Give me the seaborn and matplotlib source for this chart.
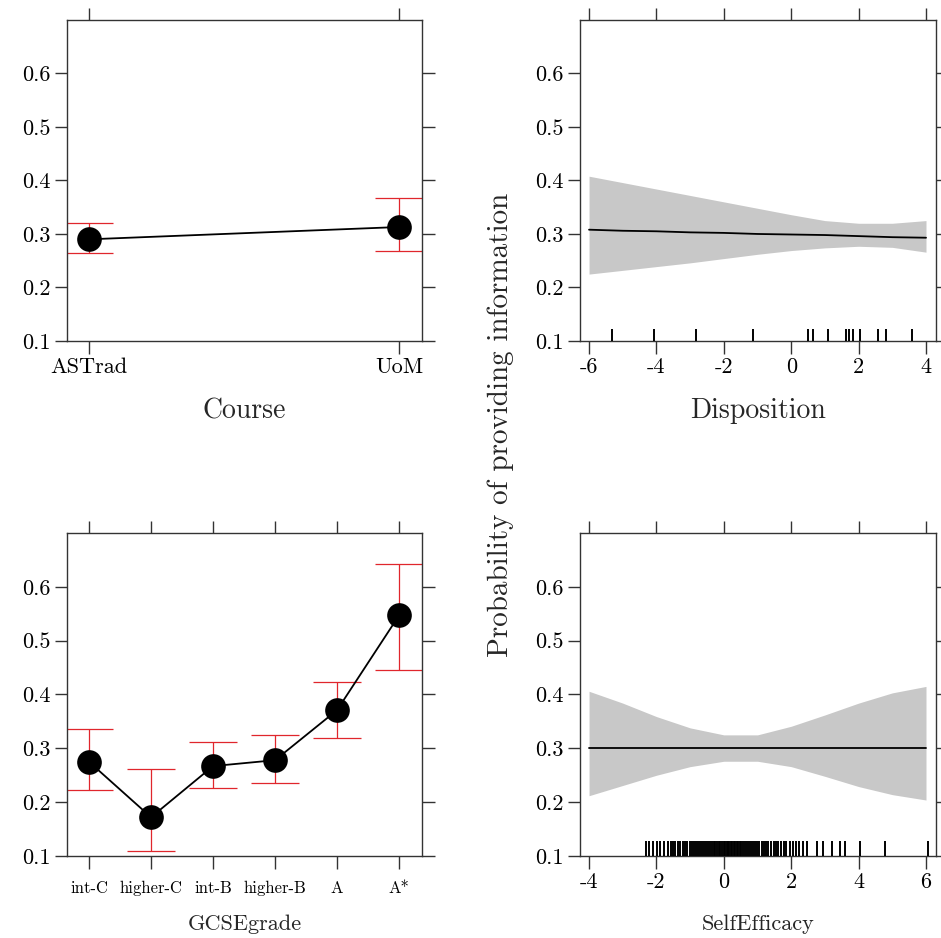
import pandas as pd
import matplotlib
matplotlib.use("Agg")
import matplotlib.pyplot as plt
import numpy as np
import seaborn as sns


## values
COURSE = ["ASTrad", "UoM"]
COURSE_FIT = [0.290, 0.313]
COURSE_LO = [0.264, 0.268]
COURSE_HI = [0.320, 0.368]

GRADES = ["int-C", "higher-C", "int-B", "higher-B", "A", "A*"]
GRADE_FIT = [0.275, 0.172, 0.267, 0.278, 0.371, 0.547]
GRADE_LO = [0.223, 0.110, 0.227, 0.235, 0.320, 0.446]
GRADE_HI = [0.335, 0.262, 0.312, 0.325, 0.423, 0.643]

DISP_X = [-6, -5, -4, -3, -2, -1, 0, 1, 2, 3, 4]
DISP_FIT = [0.308, 0.306, 0.305, 0.303, 0.302, 0.300, 0.299, 0.298, 0.296, 0.294, 0.293]
DISP_LO = [0.225, 0.232, 0.239, 0.246, 0.254, 0.262, 0.269, 0.274, 0.277, 0.275, 0.266]
DISP_HI = [0.408, 0.396, 0.384, 0.372, 0.360, 0.348, 0.336, 0.325, 0.320, 0.320, 0.325]
DISP_RUG = [-5.33, -4.07, -2.82, -1.12, 0.51, 0.66, 1.10, 1.62, 1.72, 1.84,
            2.04, 2.57, 2.81, 3.58]

SE_X = [-4, -3, -2, -1, 0, 1, 2, 3, 4, 5, 6]
SE_FIT = [0.300, 0.300, 0.300, 0.300, 0.300, 0.300, 0.300, 0.300, 0.300, 0.300, 0.300]
SE_LO = [0.212, 0.231, 0.250, 0.266, 0.276, 0.276, 0.266, 0.248, 0.229, 0.214, 0.204]
SE_HI = [0.406, 0.384, 0.359, 0.338, 0.325, 0.325, 0.341, 0.362, 0.384, 0.403, 0.415]
SE_RUG = [-2.31, -2.21, -2.11, -1.99, -1.89, -1.77, -1.67, -1.58, -1.50, -1.44,
          -1.36, -1.30, -1.22, -1.15, -1.08, -1.00, -0.95, -0.88, -0.82, -0.76,
          -0.70, -0.64, -0.58, -0.52, -0.46, -0.40, -0.35, -0.30, -0.25, -0.20,
          -0.15, -0.10, -0.05, 0.00, 0.04, 0.08, 0.12, 0.16, 0.20, 0.25,
          0.30, 0.34, 0.38, 0.42, 0.47, 0.52, 0.57, 0.62, 0.68, 0.74,
          0.80, 0.86, 0.92, 0.98, 1.05, 1.12, 1.18, 1.25, 1.32, 1.40,
          1.48, 1.55, 1.62, 1.70, 1.78, 1.86, 1.95, 2.04, 2.14, 2.24,
          2.35, 2.46, 2.76, 2.95, 3.20, 3.45, 3.60, 4.04, 4.78, 6.05]

Y_TICKS = [0.1, 0.2, 0.3, 0.4, 0.5, 0.6]
DISP_TICKS = [-6, -4, -2, 0, 2, 4]
SE_TICKS = [-4, -2, 0, 2, 4, 6]

YLABEL = "Probability of providing information"

sns.set_style("ticks")
plt.rcParams["font.family"] = ["cmr10", "DejaVu Serif"]
plt.rcParams["axes.formatter.use_mathtext"] = True
plt.rcParams["axes.unicode_minus"] = False

BAND = "#c8c8c8"
RED = "#e0262c"


def frame(ax, xlim, xpad, labpad):
    ax.set_ylim(0.1, 0.7)
    ax.set_xlim(*xlim)
    ax.set_yticks(Y_TICKS, labels=[f"{t:.1f}" for t in Y_TICKS], fontsize=16)
    ax.tick_params(direction="out", length=9, width=1, top=True, right=True,
                   labeltop=False, labelright=False, colors="#333333",
                   labelcolor="black", pad=3)
    ax.tick_params(axis="x", pad=xpad)
    for s in ax.spines.values():
        s.set_visible(True)
        s.set_linewidth(1)
        s.set_color("#333333")
    ax.set_ylabel("")
    ax.xaxis.labelpad = labpad


def factor_panel(ax, cats, fit, lo, hi, xlim, name, tick_fs, lab_fs, xpad, labpad):
    df = pd.DataFrame({"x": cats, "fit": fit, "lo": lo, "hi": hi})
    ax.errorbar(df["x"], df["fit"], yerr=[df["fit"] - df["lo"], df["hi"] - df["fit"]],
                fmt="none", ecolor=RED, elinewidth=0.9, capsize=17, capthick=0.9, zorder=1)
    sns.lineplot(data=df, x="x", y="fit", sort=False, color="black", linewidth=1.3, ax=ax, zorder=2)
    sns.scatterplot(data=df, x="x", y="fit", color="black", s=270, edgecolor="black", ax=ax, zorder=3)
    frame(ax, xlim, xpad, labpad)
    ax.set_xticks(range(len(cats)), labels=cats, fontsize=tick_fs)
    ax.set_xlabel(name, fontsize=lab_fs)


def numeric_panel(ax, xs, fit, lo, hi, rug, ticks, xlim, name, lab_fs, rug_h, labpad):
    df = pd.DataFrame({"x": xs, "fit": fit, "lo": lo, "hi": hi})
    ax.fill_between(df["x"], df["lo"], df["hi"], color=BAND, linewidth=0, zorder=1)
    sns.lineplot(data=df, x="x", y="fit", color="black", linewidth=1.3, ax=ax, zorder=2)
    sns.rugplot(x=rug, height=rug_h, color="black", linewidth=1.4, ax=ax, zorder=3)
    frame(ax, xlim, 3, labpad)
    ax.set_xticks(ticks, labels=[f"{t:g}" for t in ticks], fontsize=16)
    ax.set_xlabel(name, fontsize=lab_fs)


fig = plt.figure(figsize=(9.41, 9.38), dpi=100)
ax_tl = fig.add_axes([0.0712, 0.6365, 0.3773, 0.3422])
ax_tr = fig.add_axes([0.6164, 0.6365, 0.3783, 0.3422])
ax_bl = fig.add_axes([0.0712, 0.0874, 0.3773, 0.3444])
ax_br = fig.add_axes([0.6164, 0.0874, 0.3783, 0.3444])

factor_panel(ax_tl, COURSE, COURSE_FIT, COURSE_LO, COURSE_HI, (-0.071, 1.074),
             "Course", 16, 20, 3, 15)
numeric_panel(ax_tr, DISP_X, DISP_FIT, DISP_LO, DISP_HI, DISP_RUG, DISP_TICKS,
              (-6.267, 4.297), "Disposition", 20, 0.037, 15)
factor_panel(ax_bl, GRADES, GRADE_FIT, GRADE_LO, GRADE_HI, (-0.355, 5.37),
             "GCSEgrade", 12, 16, 9, 13)
numeric_panel(ax_br, SE_X, SE_FIT, SE_LO, SE_HI, SE_RUG, SE_TICKS,
              (-4.267, 6.297), "SelfEfficacy", 16, 0.046, 16)

fig.text(0.532, 0.547, YLABEL, rotation=90, ha="center", va="center", fontsize=21)

fig.savefig("out.png", dpi=100)
